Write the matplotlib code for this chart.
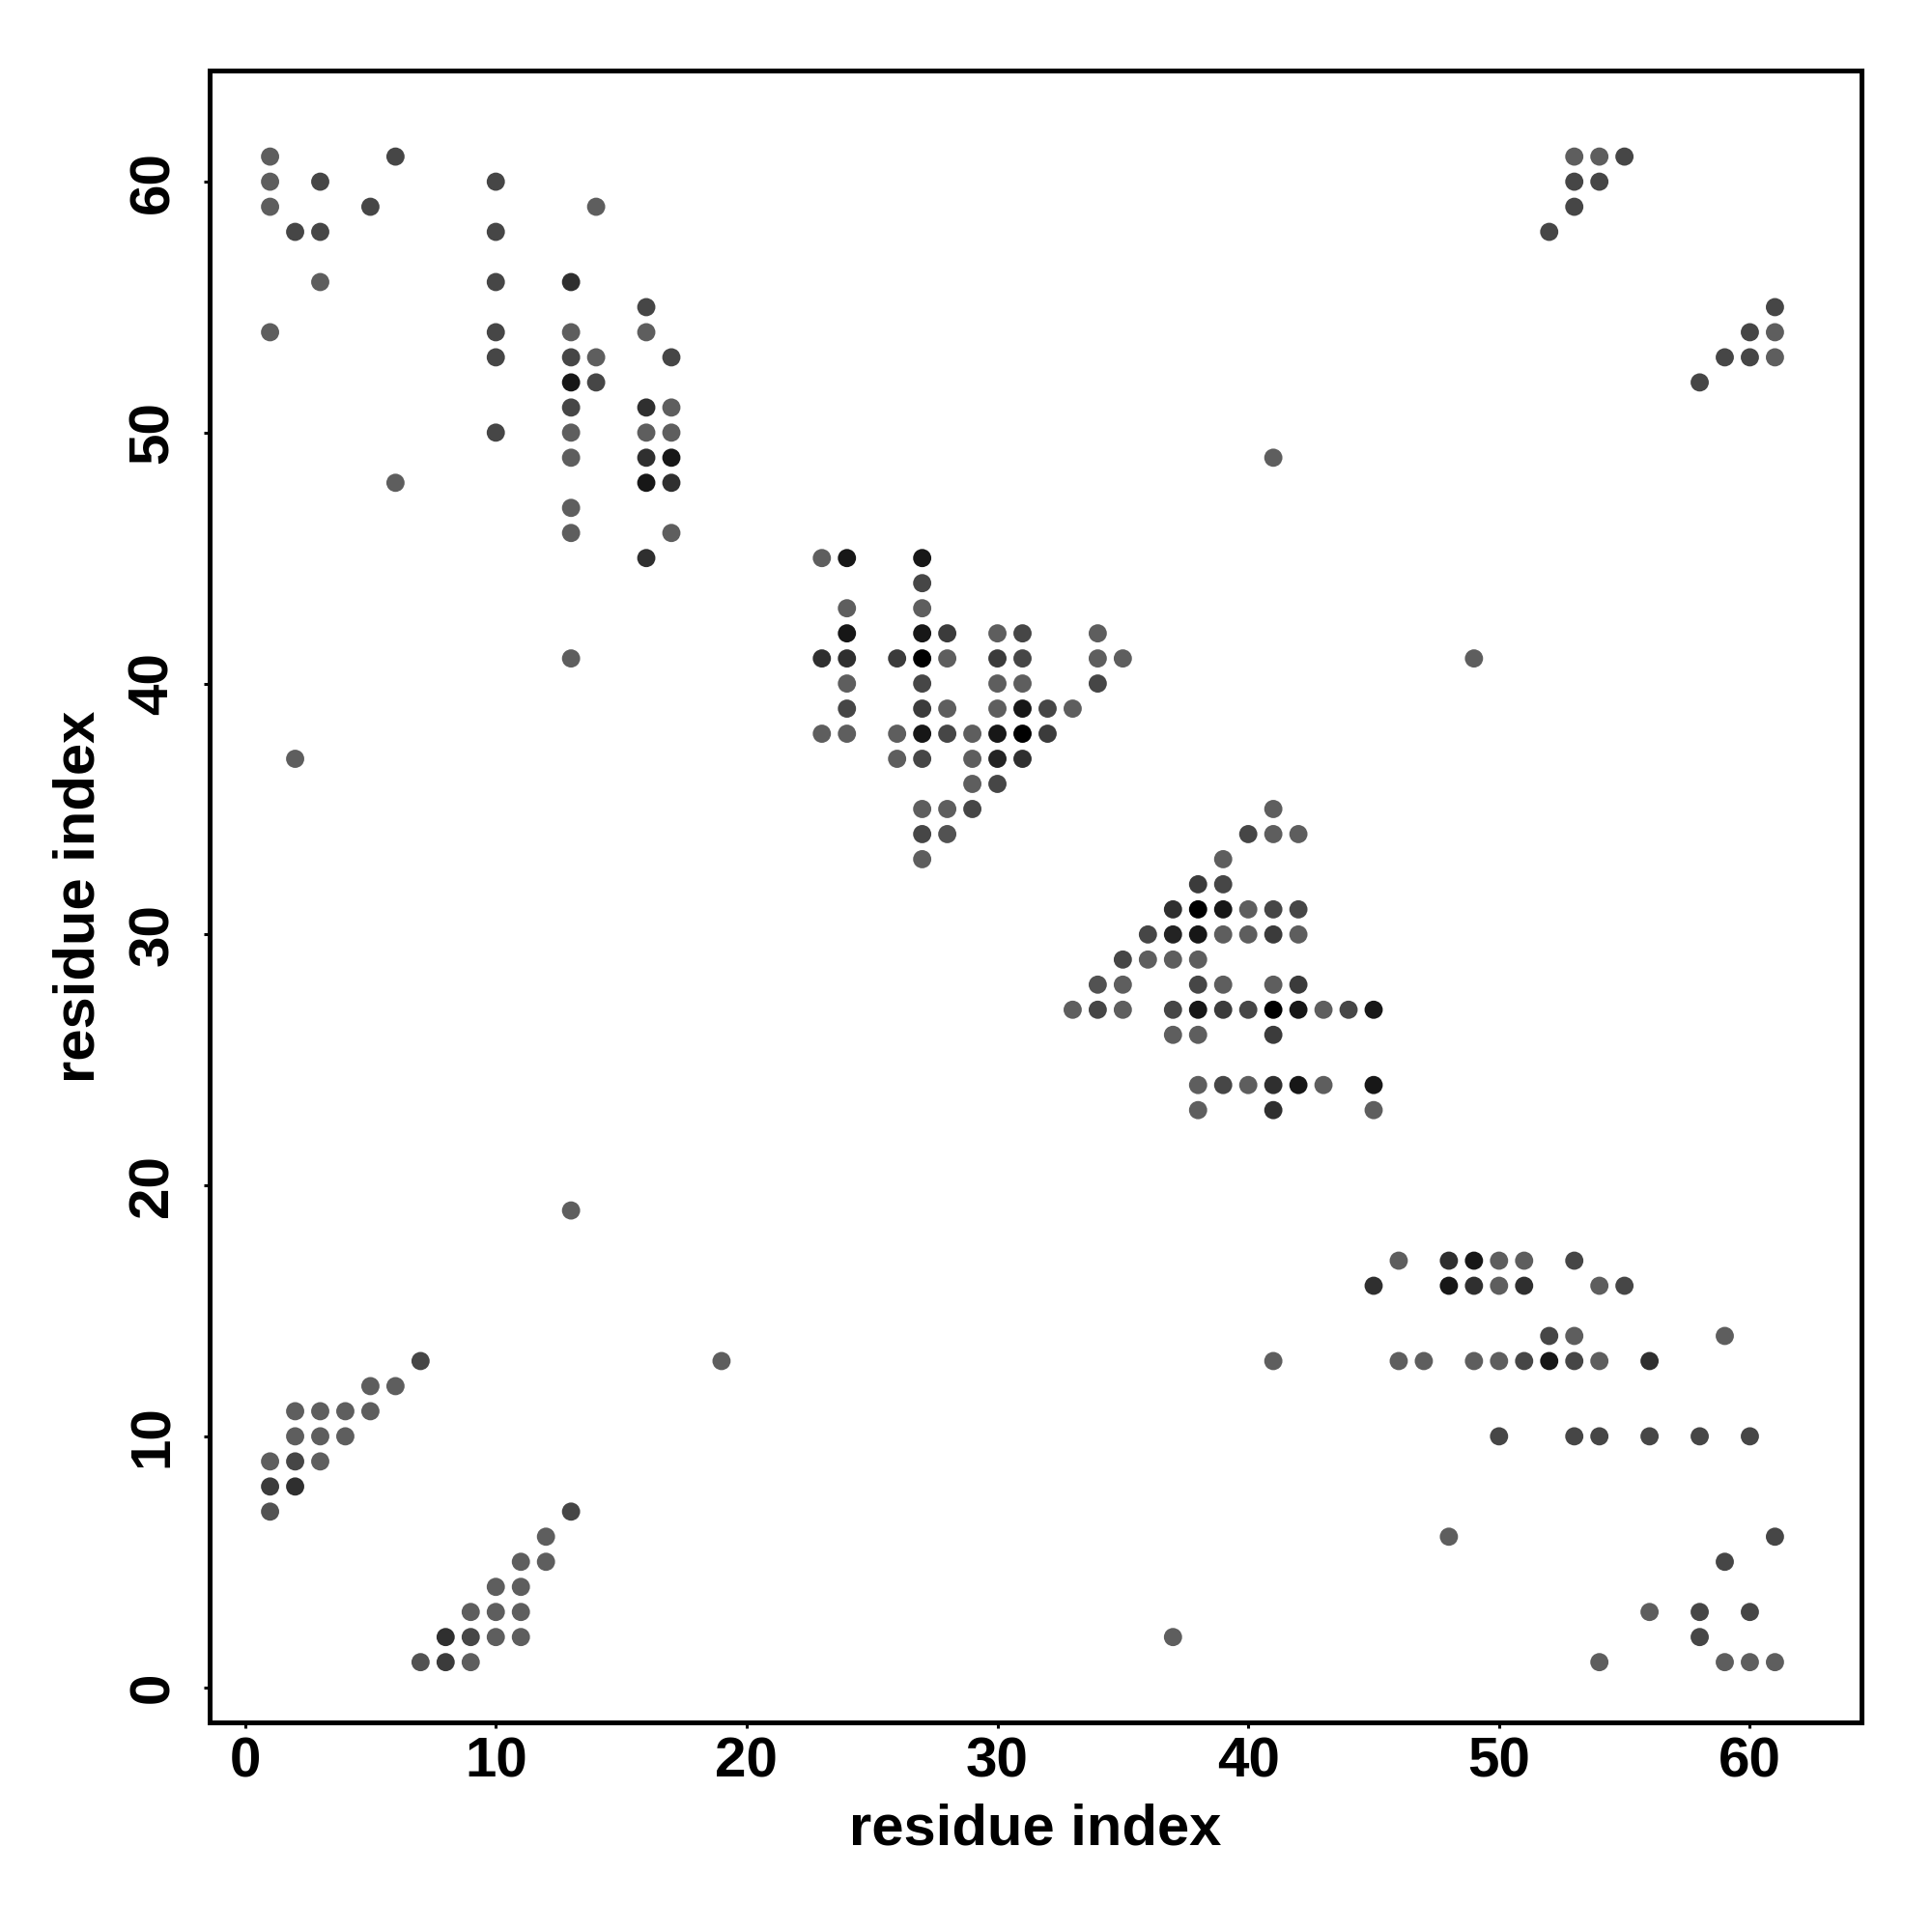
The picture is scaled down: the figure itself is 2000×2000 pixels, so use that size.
import numpy as np
import matplotlib
matplotlib.use("Agg")
import matplotlib.pyplot as plt
from matplotlib.colors import LinearSegmentedColormap, Normalize

plt.rcParams['font.family'] = ['Liberation Sans', 'DejaVu Sans']

# contacts of the upper triangle (res_i < res_j); the map is symmetric
res_i = [1, 6, 53, 54, 55,
         1, 3, 10, 53, 54,
         1, 5, 14, 53,
         2, 3, 10, 52,
         3, 10, 13,
         16,
         1, 10, 13, 16,
         10, 13, 14, 17,
         13, 14,
         13, 16, 17,
         10, 13, 16, 17,
         13, 16, 17, 41,
         6, 16, 17,
         13,
         13, 17,
         16, 23, 24, 27,
         27,
         24, 27,
         24, 27, 28, 30, 31, 34,
         13, 23, 24, 26, 27, 28, 30, 31, 34, 35,
         24, 27, 30, 31, 34,
         24, 27, 28, 30, 31, 32, 33,
         23, 24, 26, 27, 28, 29, 30, 31, 32,
         2, 26, 27, 29, 30, 31,
         29, 30,
         27, 28, 29,
         27, 28,
         27,
         13,
         7,
         5, 6,
         2, 3, 4, 5,
         2, 3, 4,
         1, 2, 3,
         1, 2,
         1]
res_j = [61, 61, 61, 61, 61,
         60, 60, 60, 60, 60,
         59, 59, 59, 59,
         58, 58, 58, 58,
         56, 56, 56,
         55,
         54, 54, 54, 54,
         53, 53, 53, 53,
         52, 52,
         51, 51, 51,
         50, 50, 50, 50,
         49, 49, 49, 49,
         48, 48, 48,
         47,
         46, 46,
         45, 45, 45, 45,
         44,
         43, 43,
         42, 42, 42, 42, 42, 42,
         41, 41, 41, 41, 41, 41, 41, 41, 41, 41,
         40, 40, 40, 40, 40,
         39, 39, 39, 39, 39, 39, 39,
         38, 38, 38, 38, 38, 38, 38, 38, 38,
         37, 37, 37, 37, 37, 37,
         36, 36,
         35, 35, 35,
         34, 34,
         33,
         19,
         13,
         12, 12,
         11, 11, 11, 11,
         10, 10, 10,
         9, 9, 9,
         8, 8,
         7]
# contact strength (0 = weakest grey, 4 = black)
strength = [0, 1, 0, 0, 1,
            0, 1, 1, 1, 1,
            0, 1, 0, 1,
            1, 1, 1, 1,
            0, 1, 2,
            1,
            0, 1, 0, 0,
            1, 1, 0, 1,
            3, 1,
            1, 2, 0,
            1, 0, 0, 0,
            0, 2, 3, 0,
            0, 3, 2,
            0,
            0, 0,
            2, 0, 3, 3,
            1,
            0, 0,
            3, 3, 1.5, 0, 1, 0,
            0, 2, 2, 1.5, 4, 0, 1.5, 1, 0, 0,
            0, 1, 0, 0, 1,
            1, 1.5, 0, 0, 3, 1, 0,
            0, 0, 0, 3, 1, 0, 3, 4, 1.5,
            0, 0, 1, 0, 2.5, 2,
            0, 1,
            0, 0, 1,
            1, 0.5,
            0,
            0,
            1,
            0, 0,
            0, 0, 0, 0,
            0, 0, 0,
            0, 1, 0,
            1.5, 2,
            0.5]

x = np.array(res_i + res_j)
y = np.array(res_j + res_i)
w = np.array(strength + strength)

cmap = LinearSegmentedColormap.from_list('contact', ['#5e5e5e', '#000000'])

fig = plt.figure(figsize=(10, 10), dpi=200)
ax = fig.add_axes([0.1085, 0.1085, 0.855, 0.855])
ax.scatter(x, y, c=w, cmap=cmap, norm=Normalize(0, 4), s=46, linewidths=0)

ax.set_xlim(-1.41, 64.45)
ax.set_ylim(-1.40, 64.43)
ax.set_xticks(np.arange(0, 61, 10))
ax.set_yticks(np.arange(0, 61, 10))
for sp in ax.spines.values():
    sp.set_linewidth(1.8)
ax.tick_params(length=2.2, width=1.1, labelsize=21)
ax.tick_params(axis='x', pad=3)
ax.tick_params(axis='y', pad=9)
for lab in ax.get_xticklabels():
    lab.set_fontweight('bold')
for lab in ax.get_yticklabels():
    lab.set_fontweight('bold')
    lab.set_rotation(90)
    lab.set_va('center')

ax.set_xlabel('residue index', fontsize=21.5, fontweight='bold', labelpad=5.5)
ax.set_ylabel('residue index', fontsize=21.5, fontweight='bold', labelpad=8)

fig.savefig('out.png', dpi=200)
